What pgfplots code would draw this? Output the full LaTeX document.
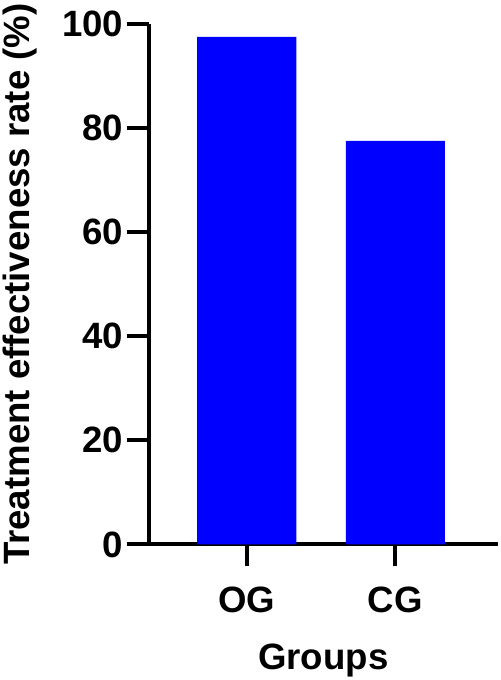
\documentclass[border=0pt]{standalone}
\usepackage{fontspec}
\setmainfont{Liberation Sans}
\usepackage{pgfplots}
\pgfplotsset{compat=1.18}

\begin{document}
\begin{tikzpicture}
\begin{axis}[
  name=ax,
  scale only axis, width=353pt, height=526pt,
  xmin=0.34, xmax=2.69, ymin=0, ymax=100,
  axis x line*=bottom, axis y line*=left,
  axis line style={line width=4pt, -},
  every tick/.style={line width=4pt, black},
  tick align=outside, major tick length=22pt,
  xtick={1,2}, xticklabels={OG,CG},
  ytick={0,20,40,60,80,100},
  /pgf/number format/assume math mode=true,
  tick label style={font=\fontsize{37}{40}\selectfont\bfseries},
  xticklabel style={anchor=base, yshift=-47pt},
  label style={font=\fontsize{37}{40}\selectfont\bfseries},
  xlabel={Groups}, ylabel={Treatment effectiveness rate (\%)},
  xlabel style={at={(axis description cs:0.5,0)}, anchor=base, yshift=-126pt},
  ylabel style={at={(axis description cs:0,0.5)}, anchor=base, yshift=120pt},
  ybar, bar width=0.667,
]
\addplot[fill=blue, draw=none] coordinates {(1,97.5) (2,77.5)};
\end{axis}
\path (ax.south west) ++(-149pt,-132pt) rectangle ++(505pt,680pt);
\end{tikzpicture}
\end{document}
